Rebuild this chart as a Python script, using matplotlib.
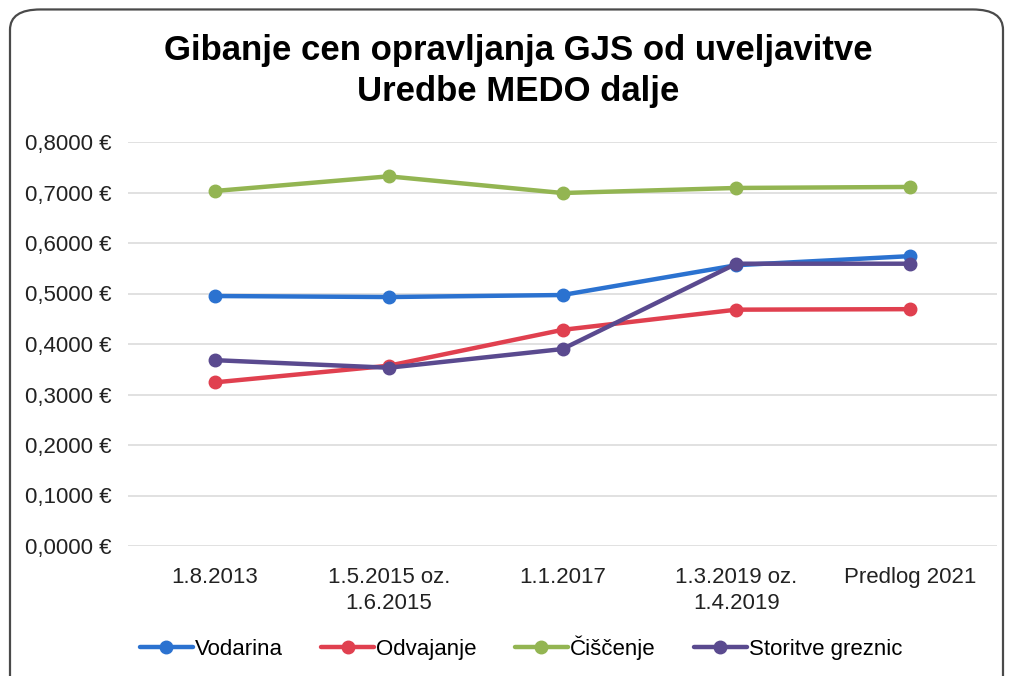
import matplotlib.pyplot as plt
from matplotlib.patches import FancyBboxPatch
from matplotlib.ticker import FuncFormatter

plt.rcParams['font.family'] = ['Liberation Sans', 'DejaVu Sans']

# data
dates = ['1.8.2013', '1.5.2015 oz.\n1.6.2015', '1.1.2017', '1.3.2019 oz.\n1.4.2019', 'Predlog 2021']
vodarina = [0.495, 0.493, 0.497, 0.556, 0.574]
odvajanje = [0.324, 0.357, 0.428, 0.468, 0.469]
ciscenje = [0.703, 0.732, 0.699, 0.709, 0.711]
greznice = [0.368, 0.353, 0.390, 0.559, 0.559]

series = [
    ('Vodarina', vodarina, '#2b72d0'),
    ('Odvajanje', odvajanje, '#e0404f'),
    ('Čiščenje', ciscenje, '#93b552'),
    ('Storitve greznic', greznice, '#5a4a8f'),
]

fig = plt.figure(figsize=(10.12, 6.76), dpi=100)
ax = fig.add_axes([128 / 1012, 1 - 546 / 676, 869 / 1012, 404 / 676])

# rounded frame round the whole chart
frame = FancyBboxPatch((10 / 1012, -0.05), 993 / 1012, 1.036, transform=fig.transFigure,
                       boxstyle='round,pad=0,rounding_size=0.03', fill=False,
                       edgecolor='#4a4a4a', linewidth=1.6, zorder=0)
fig.patches.append(frame)

x = range(len(dates))
for name, vals, col in series:
    ax.plot(x, vals, color=col, lw=3.2, marker='o', ms=9, label=name,
            solid_capstyle='round', zorder=3)

ax.set_ylim(0, 0.8)
ax.set_xlim(-0.5, len(dates) - 0.5)
ax.set_yticks([i / 10 for i in range(9)])
ax.yaxis.set_major_formatter(FuncFormatter(lambda v, p: f'{v:.4f} €'.replace('.', ',')))
ax.set_xticks(list(x))
ax.set_xticklabels(dates, fontsize=16, color='#222222', linespacing=1.35)
ax.tick_params(axis='y', labelsize=16, labelcolor='#222222', length=0, pad=12)
ax.tick_params(axis='x', length=0, pad=15)
ax.grid(axis='y', color='#d9d9d9', lw=1.1)
ax.set_axisbelow(True)
for s in ax.spines.values():
    s.set_visible(False)

fig.text(0.512, 1 - 71 / 676, 'Gibanje cen opravljanja GJS od uveljavitve\nUredbe MEDO dalje',
         ha='center', va='center', fontsize=25, fontweight='bold', linespacing=1.3)

fig.legend(loc='center', bbox_to_anchor=(0.515, 1 - 648 / 676), ncol=4, frameon=False,
           fontsize=16, handlelength=2.4, handletextpad=0.1, columnspacing=1.7)

fig.savefig('out.png', dpi=100, facecolor='white')
